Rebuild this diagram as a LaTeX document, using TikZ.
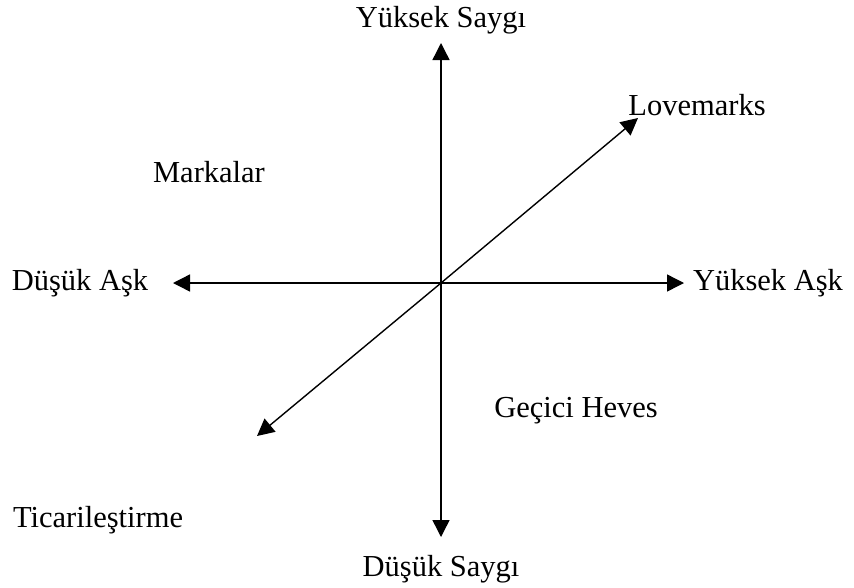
\documentclass[tikz,border=0pt]{standalone}
\usepackage{fontspec}
\setmainfont{Liberation Serif}
\usetikzlibrary{arrows.meta}
\tikzset{
  axis/.style={line width=1.4pt,-{Triangle[length=17pt,width=17pt]}},
  lbl/.style={font=\fontsize{30.5}{36}\selectfont,inner sep=0pt}
}
\begin{document}
\begin{tikzpicture}[x=1pt,y=-1pt]
\useasboundingbox (0,0) rectangle (854,587);
\coordinate (c) at (441,283);
\coordinate (top) at (441,43);
\coordinate (bot) at (441,537);
\coordinate (left) at (173,283);
\coordinate (right) at (684,283);
\coordinate (ne) at (638,118);
\coordinate (sw) at (257,436);
\draw[axis] (c) -- (top);
\draw[axis] (c) -- (bot);
\draw[axis] (c) -- (left);
\draw[axis] (c) -- (right);
\draw[axis] (c) -- (ne);
\draw[axis] (c) -- (sw);
\node[lbl] (ys) at (441,20) {Yüksek Saygı};
\node[lbl] (ds) at (441,569) {Düşük Saygı};
\node[lbl] (da) at (80,283) {Düşük Aşk};
\node[lbl] (ya) at (768,283) {Yüksek Aşk};
\node[lbl] (lm) at (697,105) {Lovemarks};
\node[lbl] (mk) at (209,172) {Markalar};
\node[lbl] (gh) at (576,411) {Geçici Heves};
\node[lbl] (tc) at (98,520) {Ticarileştirme};
\end{tikzpicture}
\end{document}
